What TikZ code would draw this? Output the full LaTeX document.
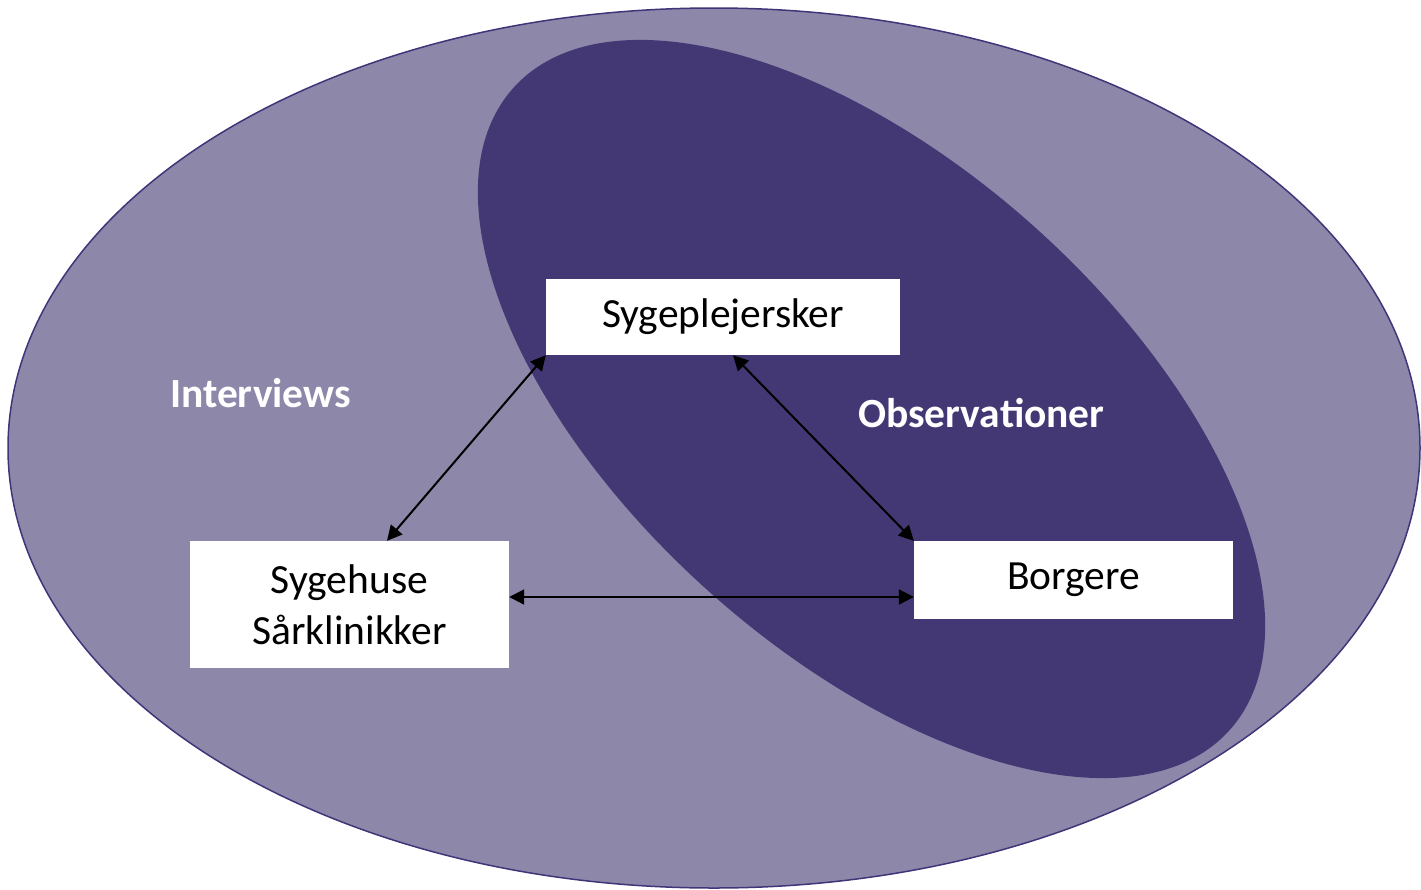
\documentclass[tikz,border=0pt]{standalone}
\usepackage{fontspec}
\setmainfont{Carlito}
\usetikzlibrary{arrows.meta,calc}
\definecolor{outerfill}{HTML}{8D87AA}
\definecolor{outerline}{HTML}{3E3679}
\definecolor{innerfill}{HTML}{433873}
\tikzset{
  box/.style={fill=white, draw=none, inner sep=0pt, align=center,
    font=\fontsize{41.5bp}{50.5bp}\selectfont},
  biglabel/.style={text=white, inner sep=0pt, anchor=base west,
    font=\fontsize{41.5bp}{50bp}\selectfont\bfseries},
  link/.style={line width=2bp, {Triangle[length=15bp,width=15bp]}-{Triangle[length=15bp,width=15bp]}},
}
\begin{document}
\begin{tikzpicture}[x=1bp,y=-1bp]
\useasboundingbox (0,0) rectangle (1421,889);
% outer ellipse
\draw[fill=outerfill, draw=outerline, line width=1.5bp] (714,448) ellipse [x radius=706, y radius=440];
% inner rotated ellipse
\fill[innerfill, rotate around={-41.87:(871.5,409)}] (871.5,409) ellipse [x radius=481, y radius=244.4];
% labels
\node[biglabel] (interviews) at (170,407) {Interviews};
\node[biglabel] (observ) at (858,427) {Observationer};
% boxes
\node[box, minimum width=354bp, minimum height=76bp] (syg) at (723,317) {Sygeplejersker};
\node[box, minimum width=319bp, minimum height=127bp] (hus) at (349.5,604.5) {Sygehuse\\Sårklinikker};
\node[box, minimum width=319bp, minimum height=78bp] (bor) at (1073.5,580) {Borgere};
% connectors
\draw[link] (syg.south west) -- ([xshift=37.5bp]hus.north);
\draw[link] ([xshift=10bp]syg.south) -- (bor.north west);
\draw[link] ([yshift=7.5bp]hus.east) -- ([yshift=7.5bp]hus.east -| bor.west);
\end{tikzpicture}
\end{document}
